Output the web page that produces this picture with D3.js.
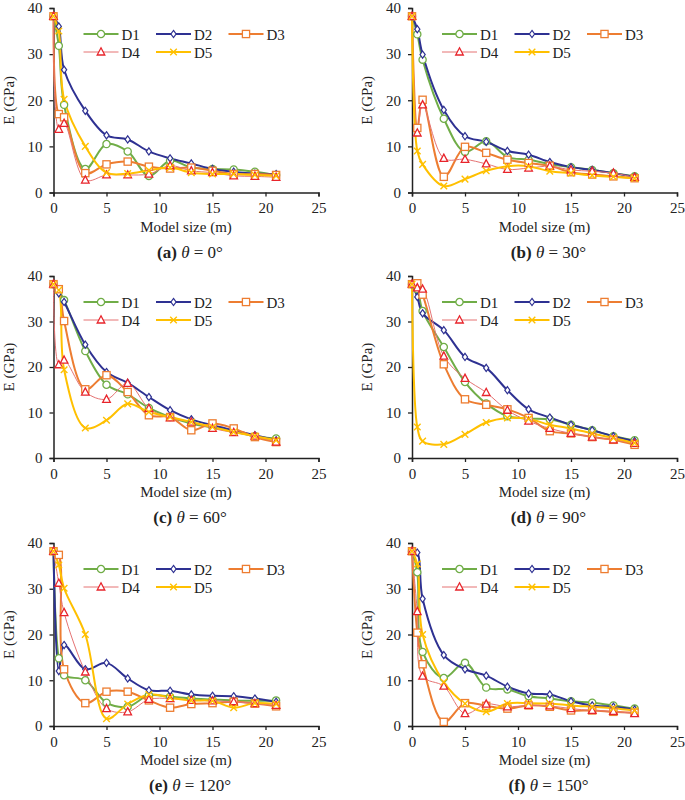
<!DOCTYPE html>
<html>
<head>
<meta charset="utf-8">
<script src="https://cdn.jsdelivr.net/npm/d3@7"></script>
<style>
  body { margin: 0; background: #fff; }
  svg text { font-family: "Liberation Serif", "Tinos", "DejaVu Serif", serif !important; fill: #222; }
</style>
</head>
<body>
<div id="chart"></div>
<script>
// model sizes (m) shared by every series
const sizes = [0, 0.5, 1, 3, 5, 7, 9, 11, 13, 15, 17, 19, 21];
const seriesNames = ["D1", "D2", "D3", "D4", "D5"];
const xTicks = [0, 5, 10, 15, 20, 25];
const yTicks = [0, 10, 20, 30, 40];
const panelLetters = ["a", "b", "c", "d", "e", "f"];
const panelAngles = [0, 30, 60, 90, 120, 150];

// E (GPa), one row per series D1..D5
const valsA = [
  [38.2, 31.8, 19.0, 5.1, 10.5, 8.9, 3.6, 6.9, 5.4, 5.1, 5.0, 4.5, 3.8],
  [38.2, 36.0, 26.6, 17.7, 12.4, 11.5, 8.9, 7.4, 6.3, 5.1, 4.5, 4.1, 4.0],
  [38.2, 17.0, 16.3, 4.2, 6.1, 6.7, 5.6, 5.2, 5.4, 4.7, 4.0, 4.0, 3.8],
  [38.2, 13.7, 15.0, 2.7, 3.8, 3.8, 4.0, 5.8, 4.7, 4.3, 3.6, 3.5, 3.3],
  [38.2, 35.0, 20.2, 10.0, 4.3, 4.1, 4.8, 5.4, 4.3, 4.0, 4.0, 3.8, 3.6]
];
const valsB = [
  [38.2, 34.3, 28.8, 16.0, 8.8, 11.1, 7.7, 7.1, 6.2, 5.5, 4.9, 4.2, 3.5],
  [38.2, 35.4, 29.9, 17.9, 12.2, 11.0, 9.0, 8.2, 6.6, 5.5, 4.9, 4.2, 3.4],
  [38.2, 14.0, 20.1, 3.4, 9.9, 8.6, 7.1, 6.4, 5.8, 4.4, 3.9, 3.5, 3.1],
  [38.2, 12.9, 19.0, 7.4, 7.2, 6.2, 5.0, 5.3, 5.7, 4.9, 4.6, 4.2, 3.3],
  [38.2, 9.0, 6.1, 1.4, 2.9, 4.7, 5.7, 5.7, 4.6, 4.2, 3.7, 3.4, 3.1]
];
const valsC = [
  [38.2, 36.8, 34.7, 23.5, 16.1, 14.0, 11.0, 9.0, 7.6, 6.7, 5.9, 4.8, 4.3],
  [38.2, 36.2, 34.3, 24.9, 18.9, 16.5, 13.4, 10.5, 8.5, 7.2, 6.1, 5.0, 3.9],
  [38.2, 37.1, 30.1, 15.1, 18.2, 14.5, 9.4, 9.0, 6.1, 7.6, 6.5, 4.6, 3.5],
  [38.2, 20.5, 21.5, 14.5, 12.9, 16.4, 10.9, 8.8, 7.9, 6.5, 5.6, 4.8, 3.5],
  [38.2, 36.9, 19.4, 6.6, 8.3, 11.9, 10.1, 9.0, 7.9, 6.8, 5.7, 4.8, 3.9]
];
const valsD = [
  [38.2, 37.1, 32.3, 24.4, 16.7, 12.0, 9.2, 8.7, 8.5, 7.3, 6.1, 4.8, 3.9],
  [38.2, 35.4, 31.8, 28.1, 22.2, 19.8, 14.9, 10.7, 8.9, 7.3, 6.1, 4.8, 3.7],
  [38.2, 38.4, 35.9, 20.6, 12.9, 11.7, 10.7, 8.8, 5.9, 5.4, 4.6, 4.0, 2.9],
  [38.2, 37.4, 37.1, 22.4, 17.5, 14.4, 10.5, 8.1, 6.5, 5.4, 4.6, 4.0, 3.2],
  [38.2, 6.8, 3.7, 3.0, 5.2, 7.8, 8.8, 8.6, 7.3, 6.5, 5.4, 4.4, 3.3]
];
const valsE = [
  [38.2, 14.8, 11.1, 10.0, 5.1, 4.2, 6.7, 6.4, 6.0, 5.8, 5.6, 5.5, 5.6],
  [38.2, 12.0, 17.7, 12.4, 13.8, 10.4, 7.8, 7.7, 6.9, 6.6, 6.5, 6.0, 5.3],
  [38.2, 37.4, 12.4, 5.0, 7.5, 7.5, 5.6, 4.0, 4.8, 5.0, 5.3, 4.9, 4.3],
  [38.2, 31.2, 24.8, 11.8, 3.8, 3.1, 5.8, 6.0, 5.6, 5.5, 5.3, 4.9, 4.5],
  [38.2, 35.2, 30.1, 20.0, 1.6, 4.8, 6.9, 6.2, 5.6, 5.5, 4.0, 5.0, 4.8]
];
const valsF = [
  [38.2, 33.6, 16.2, 10.5, 13.8, 8.4, 8.0, 6.5, 6.0, 5.4, 5.1, 4.5, 3.8],
  [38.2, 37.9, 27.8, 15.5, 12.4, 11.0, 8.6, 7.1, 6.9, 5.4, 4.5, 4.2, 3.6],
  [38.2, 20.4, 13.5, 0.9, 5.0, 4.4, 3.8, 4.5, 4.2, 3.4, 3.4, 3.1, 2.9],
  [38.2, 25.0, 10.9, 8.7, 2.7, 4.8, 4.2, 4.5, 4.4, 3.8, 3.4, 3.2, 2.7],
  [38.2, 35.4, 20.0, 9.6, 4.9, 3.1, 4.9, 5.0, 4.9, 4.5, 4.2, 3.9, 3.4]
];
const panelValues = [valsA, valsB, valsC, valsD, valsE, valsF];

const colors = ["#70AD47", "#2E3192", "#ED7D31", "#E8242B", "#FFC000"];
const lineColors = ["#70AD47", "#2E3192", "#ED7D31", "#E57373", "#FFC000"];
const lineWidths = [2, 2, 2, 1, 2];

const width = 685;
const height = 800;
const plotW = 265;
const colX = [53.5, 412];
const rowTop = [8, 276, 543];
const rowBottom = [192.5, 458, 726];
const serif = "'Liberation Serif', 'Tinos', 'DejaVu Serif', serif";

const svg = d3.select("#chart")
  .append("svg")
  .attr("width", width)
  .attr("height", height);

// marker drawing, one shape per series
function drawMarker(g, i, color) {
  if (i === 0) {
    g.append("circle").attr("r", 3.6)
      .attr("fill", "#fff").attr("stroke", color).attr("stroke-width", 1.3);
  } else if (i === 1) {
    g.append("path").attr("d", "M0,-3.6L2.6,0L0,3.6L-2.6,0Z")
      .attr("fill", "#fff").attr("stroke", color).attr("stroke-width", 1.2);
  } else if (i === 2) {
    g.append("rect").attr("x", -3.6).attr("y", -3.6).attr("width", 7.2).attr("height", 7.2)
      .attr("fill", "#fff").attr("stroke", color).attr("stroke-width", 1.3);
  } else if (i === 3) {
    g.append("path").attr("d", "M0,-4.2L3.8,3L-3.8,3Z")
      .attr("fill", "#fff").attr("stroke", color).attr("stroke-width", 1.3);
  } else {
    g.append("path").attr("d", "M-3.3,-3.3L3.3,3.3M-3.3,3.3L3.3,-3.3")
      .attr("fill", "none").attr("stroke", color).attr("stroke-width", 1.4);
  }
}

panelValues.forEach((vals, p) => {
  const col = p % 2;
  const row = Math.floor(p / 2);
  const x0 = colX[col];
  const x = d3.scaleLinear().domain([0, 25]).range([x0, x0 + plotW]);
  const y = d3.scaleLinear().domain([0, 40]).range([rowBottom[row], rowTop[row]]);

  const g = svg.append("g").attr("class", "panel").attr("font-family", serif);

  // axes
  const xAxis = g.append("g")
    .attr("transform", `translate(0, ${rowBottom[row]})`)
    .call(d3.axisBottom(x).tickValues(xTicks).tickSize(4).tickPadding(6));
  const yAxis = g.append("g")
    .attr("transform", `translate(${x0}, 0)`)
    .call(d3.axisLeft(y).tickValues(yTicks).tickSize(4).tickPadding(7));
  [xAxis, yAxis].forEach(a => {
    a.attr("font-family", serif).attr("font-size", 15);
    a.select(".domain").attr("stroke", "#222").attr("stroke-width", 1.5);
    a.selectAll(".tick line").attr("stroke", "#222").attr("stroke-width", 1.3);
    a.selectAll(".tick text").attr("fill", "#222");
  });

  g.append("text")
    .attr("x", x0 + plotW / 2)
    .attr("y", rowBottom[row] + 39)
    .attr("text-anchor", "middle")
    .style("font-size", "15px")
    .text("Model size (m)");

  const midY = (rowTop[row] + rowBottom[row]) / 2;
  g.append("text")
    .attr("transform", `translate(${x0 - 40}, ${midY}) rotate(-90)`)
    .attr("text-anchor", "middle")
    .style("font-size", "15px")
    .text("E (GPa)");

  const title = g.append("text")
    .attr("x", x0 + plotW / 2 + 4)
    .attr("y", rowBottom[row] + 65)
    .attr("text-anchor", "middle")
    .style("font-size", "17px");
  title.append("tspan").attr("font-weight", "bold").text(`(${panelLetters[p]})`);
  title.append("tspan").text(" ");
  title.append("tspan").attr("font-style", "italic").text("θ");
  title.append("tspan").text(` = ${panelAngles[p]}°`);

  // series
  const line = d3.line()
    .x(d => x(d[0]))
    .y(d => y(d[1]))
    .curve(d3.curveCatmullRom.alpha(0.5));

  vals.forEach((series, i) => {
    const pts = sizes.map((s, k) => [s, series[k]]);
    g.append("path")
      .datum(pts)
      .attr("fill", "none")
      .attr("stroke", lineColors[i])
      .attr("stroke-width", lineWidths[i])
      .attr("d", line);
  });
  vals.forEach((series, i) => {
    sizes.forEach((s, k) => {
      const m = g.append("g").attr("transform", `translate(${x(s)}, ${y(series[k])})`);
      drawMarker(m, i, colors[i]);
    });
  });

  // legend
  const legend = g.append("g")
    .attr("transform", `translate(${x0 + 30}, ${rowTop[row] + 26})`);
  seriesNames.forEach((name, i) => {
    const lx = (i % 3) * 72.5;
    const ly = Math.floor(i / 3) * 18;
    const item = legend.append("g").attr("transform", `translate(${lx}, ${ly})`);
    item.append("line")
      .attr("x1", 0).attr("x2", 35)
      .attr("stroke", lineColors[i]).attr("stroke-width", lineWidths[i]);
    drawMarker(item.append("g").attr("transform", "translate(17.5, 0)"), i, colors[i]);
    item.append("text")
      .attr("x", 38).attr("y", 5.5)
      .style("font-size", "15px")
      .text(name);
  });
});
</script>
</body>
</html>
